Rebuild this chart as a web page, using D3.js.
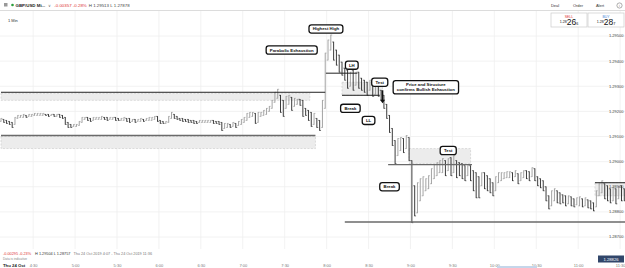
<!DOCTYPE html>
<html><head><meta charset="utf-8">
<script src="https://cdn.jsdelivr.net/npm/d3@7"></script>
<style>
body{margin:0;background:#fff;overflow:hidden}
svg{display:block;font-family:"Liberation Sans",Arial,sans-serif}
</style>
</head><body>
<svg id="c" width="625" height="268"></svg>
<script>
// ---------- DATA ----------
const startTime = "04:07";
const endTime = "11:36";
const barMinutes = 2;
const highs = [
1.29172,1.29168,1.29164,1.29160,1.29156,1.29176,1.29184,1.29184,1.29188,1.29184,
1.29188,1.29188,1.29192,1.29192,1.29192,1.29192,1.29188,1.29188,1.29188,1.29188,
1.29188,1.29188,1.29184,1.29176,1.29156,1.29148,1.29148,1.29148,1.29160,1.29176,
1.29176,1.29176,1.29172,1.29176,1.29176,1.29176,1.29180,1.29176,1.29176,1.29176,
1.29176,1.29176,1.29172,1.29172,1.29176,1.29172,1.29172,1.29168,1.29168,1.29168,
1.29172,1.29168,1.29172,1.29176,1.29176,1.29180,1.29180,1.29164,1.29160,1.29160,
1.29180,1.29196,1.29188,1.29180,1.29172,1.29172,1.29168,1.29168,1.29164,1.29164,
1.29160,1.29164,1.29164,1.29164,1.29164,1.29164,1.29164,1.29160,1.29160,1.29156,
1.29152,1.29152,1.29148,1.29156,1.29152,1.29160,1.29168,1.29176,1.29192,1.29196,
1.29196,1.29192,1.29196,1.29196,1.29204,1.29212,1.29220,1.29244,1.29276,1.29288,
1.29264,1.29244,1.29260,1.29264,1.29256,1.29252,1.29248,1.29248,1.29244,1.29212,
1.29204,1.29196,1.29192,1.29172,1.29164,1.29244,1.29432,1.29484,1.29504,1.29476,
1.29444,1.29424,1.29396,1.29372,1.29364,1.29356,1.29364,1.29356,1.29356,1.29332,
1.29324,1.29316,1.29324,1.29308,1.29304,1.29304,1.29284,1.29264,1.29228,1.29184,
1.29132,1.29084,1.29092,1.29096,1.29092,1.29104,1.29096,1.29004,1.28904,1.28916,
1.28932,1.28940,1.28932,1.28944,1.28972,1.28988,1.28996,1.29004,1.29012,1.29004,
1.29012,1.29016,1.29024,1.29004,1.28996,1.28992,1.28984,1.28984,1.28984,1.28964,
1.28956,1.28940,1.28956,1.28956,1.28944,1.28932,1.28916,1.28940,1.28956,1.28956,
1.28956,1.28960,1.28960,1.28956,1.28964,1.28952,1.28956,1.28964,1.28964,1.28960,
1.28976,1.28972,1.28940,1.28932,1.28924,1.28900,1.28864,1.28884,1.28892,1.28884,
1.28876,1.28868,1.28864,1.28864,1.28860,1.28852,1.28856,1.28860,1.28852,1.28856,
1.28848,1.28844,1.28836,1.28884,1.28912,1.28924,1.28912,1.28904,1.28892,1.28900,
1.28892,1.28900,1.28904,1.28892,1.28900
];
const lows = [
1.29160,1.29156,1.29152,1.29148,1.29136,1.29148,1.29172,1.29176,1.29176,1.29176,
1.29180,1.29180,1.29184,1.29184,1.29184,1.29184,1.29184,1.29180,1.29184,1.29180,
1.29180,1.29176,1.29172,1.29148,1.29136,1.29136,1.29140,1.29140,1.29144,1.29156,
1.29168,1.29164,1.29160,1.29164,1.29168,1.29168,1.29168,1.29168,1.29164,1.29168,
1.29168,1.29164,1.29164,1.29164,1.29164,1.29160,1.29156,1.29160,1.29156,1.29160,
1.29160,1.29160,1.29164,1.29164,1.29164,1.29168,1.29160,1.29152,1.29152,1.29152,
1.29156,1.29172,1.29172,1.29168,1.29164,1.29160,1.29160,1.29156,1.29156,1.29152,
1.29152,1.29156,1.29156,1.29156,1.29156,1.29156,1.29152,1.29152,1.29148,1.29124,
1.29132,1.29136,1.29136,1.29140,1.29136,1.29144,1.29148,1.29156,1.29164,1.29176,
1.29180,1.29152,1.29156,1.29180,1.29184,1.29188,1.29200,1.29212,1.29236,1.29252,
1.29196,1.29180,1.29212,1.29228,1.29204,1.29220,1.29228,1.29224,1.29180,1.29184,
1.29164,1.29140,1.29148,1.29136,1.29124,1.29136,1.29212,1.29404,1.29444,1.29404,
1.29384,1.29356,1.29344,1.29324,1.29292,1.29300,1.29284,1.29304,1.29292,1.29284,
1.29276,1.29264,1.29284,1.29260,1.29268,1.29260,1.29244,1.29212,1.29172,1.29116,
1.29064,1.28992,1.29024,1.29044,1.29036,1.29052,1.29004,1.28757,1.28784,1.28796,
1.28844,1.28864,1.28884,1.28892,1.28912,1.28932,1.28944,1.28956,1.28956,1.28944,
1.28964,1.28944,1.28956,1.28936,1.28944,1.28932,1.28924,1.28944,1.28924,1.28884,
1.28856,1.28856,1.28904,1.28892,1.28884,1.28876,1.28864,1.28884,1.28916,1.28924,
1.28932,1.28936,1.28936,1.28924,1.28940,1.28912,1.28924,1.28936,1.28932,1.28924,
1.28940,1.28924,1.28904,1.28896,1.28884,1.28844,1.28812,1.28824,1.28844,1.28836,
1.28832,1.28836,1.28824,1.28832,1.28824,1.28820,1.28828,1.28824,1.28820,1.28824,
1.28816,1.28812,1.28804,1.28820,1.28864,1.28876,1.28852,1.28844,1.28836,1.28844,
1.28832,1.28852,1.28844,1.28844,1.28860
];
const priceTicks = [1.28700,1.28800,1.28900,1.29000,1.29100,1.29200,1.29300,1.29400,1.29500];
const timeTicks = ["04:30","05:00","05:30","06:00","06:30","07:00","07:30","08:00","08:30","09:00","09:30","10:00","10:30","11:00","11:30"];
const currentPrice = 1.28826;

// annotations (label, time, price)
const noteLabels = ["Highest High","Parabolic Exhaustion","LH","Test","Price and Structure|confirms Bullish Exhaustion","Break","LL","Break","Test"];
const noteTimes  = ["07:59:30","07:35","08:18","08:38","09:11","08:17","08:30","08:45","09:27"];
const notePrices = [1.29528,1.29444,1.29384,1.29316,1.29296,1.29212,1.29164,1.28900,1.29044];
// horizontal levels (from, to, price, kind)
const levelFrom  = ["04:07","04:07","07:59:30","08:11","08:44","08:13","11:12"];
const levelTo    = ["07:59","07:52","08:22","08:38","09:44","11:36","11:36"];
const levelPrice = [1.29276,1.29104,1.29352,1.29264,1.28988,1.28760,1.28916];
const levelKind  = ["dark","grey","dark","dark","grey","grey","dark"];
// shaded zones (from, to, top price, bottom price)
const zoneFrom = ["04:07","04:07","08:11","08:59","11:12"];
const zoneTo   = ["07:48","07:52","08:40","09:43","11:36"];
const zoneTop  = [1.29272,1.29100,1.29316,1.29052,1.28916];
const zoneBot  = [1.29244,1.29052,1.29264,1.28992,1.28864];
// arrow (time, from price, to price)
const arrowTime = "08:40", arrowFrom = 1.29284, arrowTo = 1.29232;

// ---------- CHART ----------
const T = s => { const p = s.split(":").map(Number); return new Date(2019,9,24,p[0],p[1],p[2]||0); };
const svg = d3.select("#c");
const x = d3.scaleTime().domain([T(startTime), T(endTime)]).range([1, 628.5]);
const y = d3.scaleLinear().domain([1.28700, 1.29500]).range([237, 36]);
const plotTop = 11, plotBot = 249;

// grid
svg.append("g").selectAll("line").data(timeTicks).join("line")
  .attr("x1", d => x(T(d))).attr("x2", d => x(T(d)))
  .attr("y1", plotTop).attr("y2", plotBot).attr("stroke", "#efefef").attr("stroke-width", 0.8);
svg.append("g").selectAll("line").data(priceTicks).join("line")
  .attr("x1", 0).attr("x2", 625).attr("y1", d => y(d)).attr("y2", d => y(d))
  .attr("stroke", "#efefef").attr("stroke-width", 0.8);
svg.append("line").attr("x1",0).attr("x2",625).attr("y1",10.5).attr("y2",10.5).attr("stroke","#dcdcdc");

// zones
const zones = zoneFrom.map((f,i)=>({f:T(f),t:T(zoneTo[i]),a:zoneTop[i],b:zoneBot[i]}));
svg.append("g").selectAll("rect").data(zones).join("rect")
  .attr("x", d => x(d.f)).attr("width", d => x(d.t)-x(d.f))
  .attr("y", d => y(d.a)).attr("height", d => y(d.b)-y(d.a))
  .attr("fill", "#ececec").attr("stroke", "#c8c8c8").attr("stroke-width", 0.6).attr("stroke-dasharray", "2,1.5");

// bars
const bars = highs.map((h,i)=>({t:d3.timeMinute.offset(T(startTime), i*barMinutes), h, l:lows[i]}));
bars.forEach((d,i)=>{ const m=(d.h+d.l)/2, pm = i? (bars[i-1].h+bars[i-1].l)/2 : m; d.up = m>=pm; });
const bg = svg.append("g");
bars.forEach(d=>{
  const cx = x(d.t);
  const col = d.up ? "#9a9a9a" : "#262626";
  bg.append("line").attr("x1",cx).attr("x2",cx).attr("y1",y(d.h)-0.3).attr("y2",y(d.l)+0.3).attr("stroke",col).attr("stroke-width",0.9);
  const yo = d.up ? y(d.l) : y(d.h), yc = d.up ? y(d.h) : y(d.l);
  bg.append("line").attr("x1",cx-1.4).attr("x2",cx).attr("y1",yo).attr("y2",yo).attr("stroke",col).attr("stroke-width",0.6);
  bg.append("line").attr("x1",cx).attr("x2",cx+1.4).attr("y1",yc).attr("y2",yc).attr("stroke",col).attr("stroke-width",0.6);
});

// levels
const levels = levelFrom.map((f,i)=>({f:T(f),t:T(levelTo[i]),p:levelPrice[i],k:levelKind[i]}));
svg.append("g").selectAll("line").data(levels).join("line")
  .attr("x1", d=>x(d.f)).attr("x2", d=>x(d.t)).attr("y1", d=>y(d.p)).attr("y2", d=>y(d.p))
  .attr("stroke", d=>d.k==="dark"?"#222":"#6a6a6a").attr("stroke-width", d=>d.k==="dark"?1:1.4);

// arrow
const ax = x(T(arrowTime));
svg.append("line").attr("x1",ax).attr("x2",ax).attr("y1",y(arrowFrom)).attr("y2",y(arrowTo)-3).attr("stroke","#111").attr("stroke-width",1.6);
svg.append("path").attr("d",`M${ax-2.6},${y(arrowTo)-3.5}L${ax+2.6},${y(arrowTo)-3.5}L${ax},${y(arrowTo)}Z`).attr("fill","#111");

// annotation boxes
const ng = svg.append("g");
noteLabels.forEach((lab,i)=>{
  const cx = x(T(noteTimes[i])), cy = y(notePrices[i]);
  const lines = lab.split("|");
  const g = ng.append("g");
  const rect = g.append("rect");
  const txt = g.append("text").attr("font-size",4.3).attr("font-weight",600).attr("fill","#111").attr("text-anchor","middle");
  lines.forEach((ln,j)=>txt.append("tspan").attr("x",cx).attr("y",cy+1.5+(j-(lines.length-1)/2)*5.2).text(ln));
  const bb = txt.node().getBBox();
  const w = bb.width+7, h = lines.length*5.2+3;
  rect.attr("x",cx-w/2).attr("y",cy-h/2).attr("width",w).attr("height",h).attr("rx",2.5)
    .attr("fill","#fff").attr("stroke","#111").attr("stroke-width",1.3);
});

// y axis labels
svg.append("g").selectAll("text").data(priceTicks).join("text")
  .attr("x",623.5).attr("y",d=>y(d)+1.4).attr("text-anchor","end").attr("font-size",4).attr("fill","#444")
  .text(d=>d.toFixed(5));

// x axis
const xa = svg.append("g").attr("transform","translate(0,262)")
  .call(d3.axisBottom(x).tickValues(timeTicks.map(T)).tickSize(0).tickFormat(d3.timeFormat("%-H:%M")));
xa.select(".domain").remove();
xa.selectAll("text").attr("font-size",4).attr("fill","#777").attr("font-family","Liberation Sans, Arial, sans-serif").attr("dy","0.4em");
svg.append("text").attr("x",3).attr("y",266.5).attr("font-size",4.3).attr("font-weight","bold").attr("fill","#222").text("Thu 24 Oct");

// current price marker
svg.append("rect").attr("x",598).attr("y",255.5).attr("width",26).attr("height",7).attr("fill","#31466a");
svg.append("text").attr("x",611).attr("y",260.6).attr("text-anchor","middle").attr("font-size",4.2).attr("fill","#fff").text(currentPrice.toFixed(5));
svg.append("rect").attr("x",497).attr("y",266).attr("width",40).attr("height",2).attr("fill","#c5d6ea");

// bottom info
const info = svg.append("text").attr("x",3).attr("y",255).attr("font-size",3.8);
info.append("tspan").attr("fill","#d33").text("-0.00295  -0.23%");
info.append("tspan").attr("fill","#333").attr("dx",4).text("H 1.29504   L 1.28757");
info.append("tspan").attr("fill","#777").attr("dx",3).text("Thu 24 Oct 2019 4:07 - Thu 24 Oct 2019 11:36");
svg.append("text").attr("x",3).attr("y",259.5).attr("font-size",3.2).attr("fill","#888").text("Data is indicative");

// header
svg.append("rect").attr("x",4).attr("y",3).attr("width",3.5).attr("height",3.5).attr("fill","#999");
svg.append("circle").attr("cx",12.5).attr("cy",5).attr("r",1.3).attr("fill","#2a9d3a");
const hd = svg.append("text").attr("x",15.5).attr("y",6.5).attr("font-size",4.4);
hd.append("tspan").attr("fill","#222").attr("font-weight","bold").text("GBP/USD Mi...");
hd.append("tspan").attr("fill","#666").attr("dx",3).text("∨");
hd.append("tspan").attr("fill","#d33").attr("dx",3).text("-0.00357  -0.28%");
hd.append("tspan").attr("fill","#444").attr("dx",2).text("H 1.29513  L 1.27878");
svg.append("text").attr("x",8).attr("y",21.5).attr("font-size",4).attr("fill","#333").text("1 Min");
[["Deal",555],["Order",578],["Alert",600]].forEach(([t,px])=>svg.append("text").attr("x",px).attr("y",7).attr("text-anchor","middle").attr("font-size",4).attr("fill","#333").text(t));
svg.append("circle").attr("cx",619.5).attr("cy",5.5).attr("r",2.6).attr("fill","none").attr("stroke","#777").attr("stroke-width",0.6);
svg.append("text").attr("x",619.5).attr("y",7).attr("text-anchor","middle").attr("font-size",3.5).attr("fill","#777").text("i");
[["SELL","#d33",551,"26","6"],["BUY","#3a7bd5",588,"28","7"]].forEach(([lab,col,bx,big,sub])=>{
  svg.append("rect").attr("x",bx).attr("y",13).attr("width",36).attr("height",14).attr("fill","#fff").attr("stroke","#ccc").attr("stroke-width",0.7);
  svg.append("text").attr("x",bx+18).attr("y",17.5).attr("text-anchor","middle").attr("font-size",3.4).attr("fill",col).text(lab);
  const t = svg.append("text").attr("x",bx+18).attr("y",25).attr("text-anchor","middle").attr("fill","#111");
  t.append("tspan").attr("font-size",3.6).attr("dy",-2.5).text("1.28");
  t.append("tspan").attr("font-size",8.5).attr("dy",2.5).text(big);
  t.append("tspan").attr("font-size",3.8).text(sub);
});
</script>
</body></html>
